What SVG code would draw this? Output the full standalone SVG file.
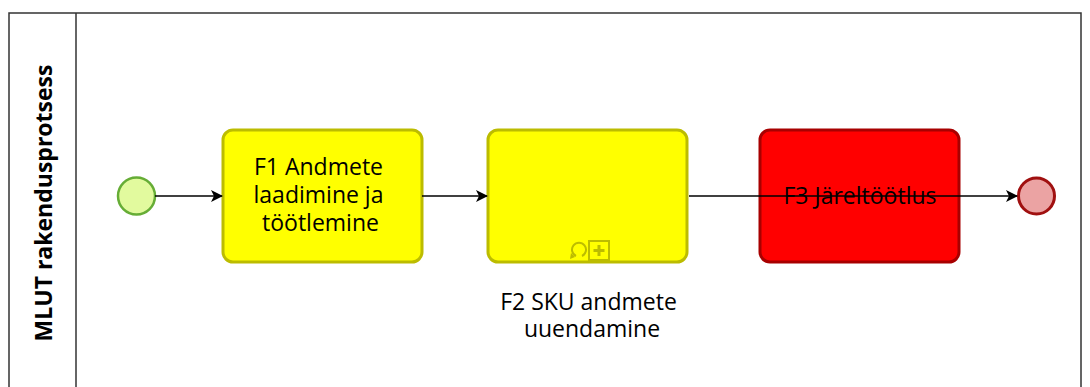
<svg xmlns="http://www.w3.org/2000/svg" width="1090" height="387" viewBox="0 0 1090 387">
<defs>
<style>
.lbl{font-family:"Open Sans","Noto Sans","Liberation Sans",sans-serif;font-size:23px;fill:#000;text-anchor:middle}
.task{stroke-width:3}
.yel{fill:#ffff00;stroke:#bcbc00}
.red{fill:#ff0000;stroke:#a80000}
.flow{stroke:#000;stroke-width:1.5;fill:none;marker-end:url(#arr)}
</style>
<marker id="arr" viewBox="0 0 12 12" refX="11" refY="6" markerWidth="12" markerHeight="12" markerUnits="userSpaceOnUse" orient="auto">
<path d="M0,0 L12,6 L0,12 L3,6 Z" fill="#000"/>
</marker>
</defs>
<rect width="1090" height="387" fill="#fff"/>
<g id="pool">
<rect x="9" y="13" width="1072" height="390" fill="none" stroke="#333" stroke-width="1.5"/>
<line x1="76" y1="13" x2="76" y2="387" stroke="#333" stroke-width="1.5"/>
<text x="43" y="203" transform="rotate(-90 43 203)" style="font-family:'Open Sans','Noto Sans','Liberation Sans',sans-serif;font-size:23px;font-weight:bold;text-anchor:middle;dominant-baseline:central">MLUT rakendusprotsess</text>
</g>
<g id="start">
<circle cx="136.5" cy="196" r="18.5" fill="#e2fa9e" stroke="#66ad36" stroke-width="2.5"/>
</g>
<g id="f1">
<rect class="task yel" x="223" y="130" width="199" height="132" rx="10"/>
<text class="lbl" x="318.5" y="175">F1 Andmete</text>
<text class="lbl" x="318.5" y="203">laadimine ja</text>
<text class="lbl" x="320.5" y="231">töötlemine</text>
</g>
<g id="f2">
<rect class="task yel" x="488" y="130" width="199" height="132" rx="10"/>
<path d="M576,256 A7,7 0 1 1 582,256" fill="none" stroke="#bcbc00" stroke-width="2"/>
<path d="M571,253 L575,257 L570,259 Z" fill="#bcbc00"/>
<rect x="589" y="241" width="20" height="19" fill="none" stroke="#bcbc00" stroke-width="2"/>
<path d="M599,245 V256 M593.5,250.5 H604.5" stroke="#bcbc00" stroke-width="3"/>
<text class="lbl" x="588.5" y="310">F2 SKU andmete</text>
<text class="lbl" x="592" y="337">uuendamine</text>
</g>
<g id="f3">
<rect class="task red" x="760" y="130" width="199" height="132" rx="10" stroke-width="2"/>
<text class="lbl" x="860" y="204">F3 Järeltöötlus</text>
</g>
<g id="end">
<circle cx="1036.5" cy="196" r="18" fill="#eba3a3" stroke="#a01010" stroke-width="3"/>
</g>
<g id="connectors">
<line class="flow" x1="155" y1="196" x2="222" y2="196"/>
<line class="flow" x1="422" y1="196" x2="487" y2="196"/>
<line class="flow" x1="689" y1="196" x2="1017" y2="196"/>
</g>
</svg>
